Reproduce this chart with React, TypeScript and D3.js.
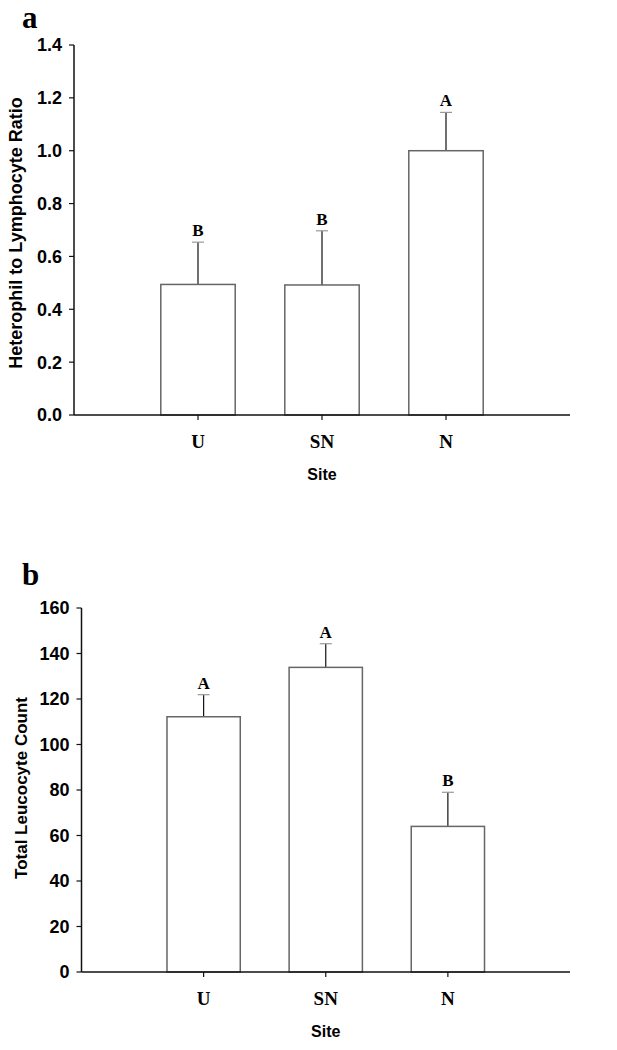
import * as d3 from 'd3';

const sites = ['U', 'SN', 'N'];

// panel a
const hlRatio = [0.494, 0.492, 1.0];
const hlError = [0.16, 0.205, 0.145];
const hlLetters = ['B', 'B', 'A'];
const hlTicks = [0, 0.2, 0.4, 0.6, 0.8, 1.0, 1.2, 1.4];

// panel b
const leucoCount = [112.2, 133.9, 64];
const leucoError = [9.7, 10.4, 15];
const leucoLetters = ['A', 'A', 'B'];
const leucoTicks = [0, 20, 40, 60, 80, 100, 120, 140, 160];

const SANS = '"Liberation Sans", Arial, sans-serif';
const SERIF = '"Liberation Serif", "Times New Roman", serif';

type PanelProps = {
  tag: string;
  tagY: number;
  values: number[];
  errors: number[];
  letters: string[];
  ticks: number[];
  fmt: (v: number) => string;
  yTitle: string;
  titleX: number;
  titleY: number;
  titleSize: number;
  left: number;
  right: number;
  top: number;
  bottom: number;
};

function Panel(p: PanelProps) {
  const { values, errors, letters, ticks, left, right, top, bottom } = p;
  const y = d3.scaleLinear().domain([ticks[0], ticks[ticks.length - 1]]).range([bottom, top]);
  const x = d3.scalePoint<string>().domain(sites).range([left, right]).padding(1);
  const barW = x.step() * 0.6;

  return (
    <g>
      <text x={22} y={p.tagY} fontFamily={SERIF} fontWeight="bold" fontSize={31}>{p.tag}</text>

      {/* bars */}
      {sites.map((s, i) => (
        <g key={s}>
          <line x1={x(s)!} x2={x(s)!} y1={y(values[i])} y2={y(values[i] + errors[i])} stroke="#111" strokeWidth={1.2} />
          <line x1={x(s)! - 6} x2={x(s)! + 6} y1={y(values[i] + errors[i])} y2={y(values[i] + errors[i])} stroke="#999" strokeWidth={1.2} />
          <rect x={x(s)! - barW / 2} y={y(values[i])} width={barW} height={bottom - y(values[i])}
            fill="white" stroke="#666" strokeWidth={1.5} />
          <text x={x(s)!} y={y(values[i] + errors[i]) - 6} textAnchor="middle" fontFamily={SERIF}
            fontWeight="bold" fontSize={17}>{letters[i]}</text>
        </g>
      ))}

      {/* y axis */}
      <line x1={left} x2={left} y1={top} y2={bottom} stroke="#111" strokeWidth={1.5} />
      {ticks.map((t) => (
        <g key={t}>
          <line x1={left - 5} x2={left} y1={y(t)} y2={y(t)} stroke="#111" strokeWidth={1.2} />
          <text x={left - 12} y={y(t)} dy="0.36em" textAnchor="end" fontFamily={SANS}
            fontWeight="bold" fontSize={18}>{p.fmt(t)}</text>
        </g>
      ))}

      {/* x axis */}
      <line x1={left} x2={right} y1={bottom} y2={bottom} stroke="#111" strokeWidth={1.5} />
      {sites.map((s) => (
        <g key={s}>
          <line x1={x(s)!} x2={x(s)!} y1={bottom} y2={bottom + 5} stroke="#111" strokeWidth={1.2} />
          <text x={x(s)!} y={bottom + 33} textAnchor="middle" fontFamily={SERIF} fontWeight="bold" fontSize={19}>{s}</text>
        </g>
      ))}

      <text x={(left + right) / 2} y={bottom + 65} textAnchor="middle" fontFamily={SANS} fontWeight="bold" fontSize={16}>Site</text>
      <text transform={`translate(${p.titleX}, ${p.titleY}) rotate(-90)`} textAnchor="middle" fontFamily={SANS}
        fontWeight="bold" fontSize={p.titleSize}>{p.yTitle}</text>
    </g>
  );
}

export default function App() {
  return (
    <svg width={617} height={1050} style={{ position: 'absolute', left: 0, top: 0, background: 'white' }}>
      <rect width={617} height={1050} fill="white" />
      <Panel tag="a" tagY={28} values={hlRatio} errors={hlError} letters={hlLetters} ticks={hlTicks}
        fmt={d3.format('.1f')} yTitle="Heterophil to Lymphocyte Ratio" titleX={22} titleY={233} titleSize={18}
        left={74} right={570} top={45} bottom={415} />
      <Panel tag="b" tagY={585} values={leucoCount} errors={leucoError} letters={leucoLetters} ticks={leucoTicks}
        fmt={d3.format('d')} yTitle="Total Leucocyte Count" titleX={27} titleY={788} titleSize={17}
        left={81.5} right={570} top={608} bottom={972} />
    </svg>
  );
}
